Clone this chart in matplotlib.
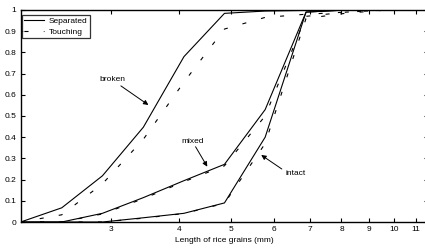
import numpy as np
import matplotlib
matplotlib.use("Agg")
import matplotlib.pyplot as plt
from matplotlib.ticker import FixedLocator, FixedFormatter, NullLocator

plt.rcParams['font.family'] = ['Liberation Sans', 'DejaVu Sans']
plt.rcParams['lines.scale_dashes'] = False

# grain length classes (mm), log spaced
length = [2.04, 2.43, 2.89, 3.44, 4.09, 4.86, 5.78, 6.88, 8.18, 9.73, 11.56]

# cumulative fraction, separated grains
broken_sep = [0, 0.067, 0.218, 0.447, 0.78, 0.984, 0.995, 0.998, 1, 1, 1]
mixed_sep = [0, 0, 0.041, 0.115, 0.195, 0.272, 0.53, 0.99, 1, 1, 1]
intact_sep = [0, 0, 0, 0.02, 0.041, 0.09, 0.40, 0.99, 1, 1, 1]

# cumulative fraction, touching grains
broken_touch = [0, 0.034, 0.18, 0.39, 0.66, 0.91, 0.965, 0.98, 0.99, 1, 1]
mixed_touch = [0, 0, 0.038, 0.11, 0.19, 0.265, 0.50, 0.97, 0.99, 1, 1]
intact_touch = [0, 0, 0, 0.018, 0.04, 0.088, 0.37, 0.96, 0.985, 1, 1]

xticks = [3, 4, 5, 6, 7, 8, 9, 10, 11]
yticks = [0, 0.1, 0.2, 0.3, 0.4, 0.5, 0.6, 0.7, 0.8, 0.9, 1]
ylabels = ['0', '0.1', '0.2', '0.3', '0.4', '0.5', '0.6', '0.7', '0.8', '0.9', '1']

fs = 6
fig = plt.figure(figsize=(4.25, 2.48), dpi=100)
ax = fig.add_axes([0.0487, 0.1048, 0.958, 0.855])

dash = (0, (2.9, 11.0))
lw = 0.8
ax.plot(length, broken_sep, color='k', lw=lw, label='Separated')
ax.plot(length, broken_touch, color='k', lw=lw, linestyle=dash, label='Touching')
ax.plot(length, mixed_sep, color='k', lw=lw)
ax.plot(length, mixed_touch, color='k', lw=lw, linestyle=dash)
ax.plot(length, intact_sep, color='k', lw=lw)
ax.plot(length, intact_touch, color='k', lw=lw, linestyle=dash)

ax.set_xscale('log')
ax.set_xlim(length[0], length[-1])
ax.set_ylim(0, 1)
ax.xaxis.set_major_locator(FixedLocator(xticks))
ax.xaxis.set_major_formatter(FixedFormatter([str(t) for t in xticks]))
ax.xaxis.set_minor_locator(NullLocator())
ax.yaxis.set_major_locator(FixedLocator(yticks))
ax.yaxis.set_major_formatter(FixedFormatter(ylabels))
ax.tick_params(direction='in', length=3, width=0.8, labelsize=fs, pad=3,
               top=True, right=True)
for s in ax.spines.values():
    s.set_linewidth(1.0)

ax.set_xlabel('Length of rice grains (mm)', fontsize=fs, labelpad=3)

arrow = dict(arrowstyle='-|>', color='k', lw=0.7, mutation_scale=7, shrinkA=0, shrinkB=0)
ax.annotate('', xy=(3.515, 0.552), xytext=(3.126, 0.642), arrowprops=arrow)
ax.text(3.01, 0.67, 'broken', fontsize=fs, ha='center', va='center')
ax.annotate('', xy=(4.517, 0.261), xytext=(4.297, 0.355), arrowprops=arrow)
ax.text(4.243, 0.379, 'mixed', fontsize=fs, ha='center', va='center')
ax.annotate('', xy=(5.684, 0.316), xytext=(6.205, 0.25), arrowprops=arrow)
ax.text(6.585, 0.23, 'intact', fontsize=fs, ha='center', va='center')

leg = ax.legend(loc='upper left', bbox_to_anchor=(0.0025, 0.976), borderaxespad=0,
                fontsize=fs, frameon=True, fancybox=False, handlelength=2.4,
                handletextpad=0.5, borderpad=0.3, labelspacing=0.3)
leg.get_frame().set_edgecolor('k')
leg.get_frame().set_linewidth(0.9)

fig.savefig('out.png', dpi=100)
